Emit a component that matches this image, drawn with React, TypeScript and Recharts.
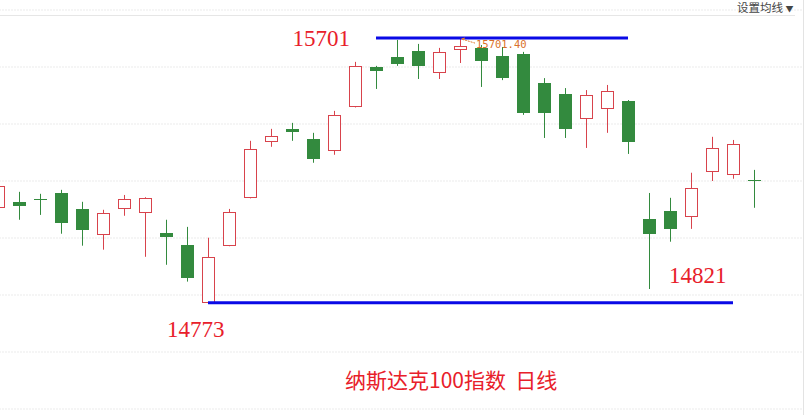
import { Bar, BarChart, CartesianGrid, ReferenceDot, ReferenceLine, XAxis, YAxis } from "recharts";

document.body.style.margin = "0";

// 日K数据
const open = [15106, 15127, 15138, 15158, 15102, 15011, 15102, 15088, 15018, 14976, 14773, 14973, 15141, 15337, 15383, 15348, 15306, 15460, 15600, 15635, 15656, 15579, 15660, 15667, 15639, 15646, 15544, 15505, 15418, 15453, 15481, 15067, 15095, 15074, 15232, 15222, 15205];
const high = [15190, 15162, 15155, 15169, 15127, 15099, 15151, 15143, 15064, 15039, 15001, 15102, 15341, 15383, 15404, 15369, 15446, 15618, 15604, 15695, 15681, 15667, 15701.4, 15677, 15670, 15653, 15561, 15526, 15519, 15537, 15484, 15158, 15141, 15229, 15355, 15344, 15239];
const low = [15099, 15064, 15081, 15015, 14973, 14959, 15078, 14934, 14906, 14847, 14773, 14971, 15139, 15320, 15341, 15264, 15292, 15458, 15523, 15604, 15558, 15558, 15614, 15530, 15554, 15432, 15351, 15351, 15316, 15369, 15295, 14821, 14987, 15032, 15200, 15208, 15106];
const close = [15183, 15113, 15136, 15053, 15029, 15088, 15137, 15141, 15004, 14861, 14934, 15092, 15313, 15358, 15372, 15278, 15432, 15604, 15586, 15611, 15604, 15653, 15674, 15621, 15561, 15439, 15439, 15383, 15502, 15516, 15337, 15015, 15032, 15176, 15316, 15330, 15203];

const yTicks = [14400, 14600, 14800, 15000, 15200, 15400, 15600];

const HI = 15701.4;
const LO = 14773;
const LO2 = 14821;
const TITLE = "纳斯达克100指数  日线";

const RED = "#d8434c";
const GREEN = "#338a3e";
const BLUE = "#0a0ae6";
const LABEL_RED = "#e8202a";

const data = open.map((o, i) => ({
  id: i,
  open: o,
  high: high[i],
  low: low[i],
  close: close[i],
  range: [low[i], high[i]],
}));

function Candle(props: any) {
  const { x, y, width, height, payload } = props;
  const { open: o, close: c, high: h, low: l } = payload;
  const cx = Math.round(x + width / 2);
  const k = Math.abs(height) / (h - l);
  const py = (v: number) => y + (h - v) * k;
  const up = c >= o;
  const top = Math.round(py(Math.max(o, c)));
  const bot = Math.round(py(Math.min(o, c)));
  const bh = Math.max(bot - top, 1);
  const col = up ? RED : GREEN;
  return (
    <g>
      <line x1={cx + 0.5} x2={cx + 0.5} y1={py(h)} y2={py(l)} stroke={col} strokeWidth={1} />
      {up ? (
        <rect x={cx - 5.5} y={top + 0.5} width={12} height={Math.max(bh - 1, 1)} fill="#fff" stroke={col} strokeWidth={1} />
      ) : (
        <rect x={cx - 6} y={top} width={13} height={bh} fill={col} />
      )}
    </g>
  );
}

const serif = "'Liberation Serif', 'DejaVu Serif', serif";

export default function App() {
  return (
    <div style={{ position: "relative", width: 811, height: 415, background: "#fff", overflow: "hidden" }}>
      <BarChart width={811} height={415} data={data} margin={{ top: 10, right: 8, bottom: 6, left: -12.5 }}>
        <CartesianGrid vertical={false} stroke="#d6d6d6" strokeDasharray="1 2" />
        <XAxis dataKey="id" hide padding={{ left: 0, right: 38.5 }} />
        <YAxis hide domain={[14400, 15800]} ticks={yTicks} allowDataOverflow />
        <Bar dataKey="range" barSize={13} shape={Candle} isAnimationActive={false} />
        <ReferenceLine segment={[{ x: 18, y: HI }, { x: 30, y: HI }]} stroke={BLUE} strokeWidth={3} ifOverflow="visible" />
        <ReferenceLine segment={[{ x: 10, y: LO }, { x: 35, y: LO }]} stroke={BLUE} strokeWidth={3} ifOverflow="visible" />
        <ReferenceDot
          x={18}
          y={HI}
          r={0}
          ifOverflow="visible"
          shape={(p: any) => (
            <text x={p.cx - 26} y={p.cy + 7.5} textAnchor="end" fill={LABEL_RED} fontSize={23} fontFamily={serif}>
              {Math.floor(HI)}
            </text>
          )}
        />
        <ReferenceDot
          x={10}
          y={LO}
          r={0}
          ifOverflow="visible"
          shape={(p: any) => (
            <text x={p.cx - 41} y={p.cy + 34} fill={LABEL_RED} fontSize={23} fontFamily={serif}>
              {LO}
            </text>
          )}
        />
        <ReferenceDot
          x={31}
          y={LO2}
          r={0}
          ifOverflow="visible"
          shape={(p: any) => (
            <text x={p.cx + 20} y={p.cy - 6} fill={LABEL_RED} fontSize={23} fontFamily={serif}>
              {LO2}
            </text>
          )}
        />
        <ReferenceDot
          x={22}
          y={HI}
          r={0}
          ifOverflow="visible"
          shape={(p: any) => (
            <g>
              <line x1={p.cx + 2} y1={p.cy + 1} x2={p.cx + 15} y2={p.cy + 5} stroke="#e07a2e" strokeWidth={1} strokeDasharray="2 1" />
              <path d={`M${p.cx + 1},${p.cy + 0.5} l4,-1 l-1,3 z`} fill="#e07a2e" />
              <text x={p.cx + 16} y={p.cy + 10} fill="#d9702a" fontSize={10.5} fontFamily="'DejaVu Sans Mono', monospace">
                {HI.toFixed(2)}
              </text>
            </g>
          )}
        />
      </BarChart>
      {/* 顶部分隔线 / 右边框 / 设置均线 */}
      <div style={{ position: "absolute", left: 0, top: 15, width: 795, borderTop: "1px solid #e6e6e6" }} />
      <div style={{ position: "absolute", left: 803, top: 0, height: 415, borderLeft: "1px solid #e3e3e3" }} />
      <div
        style={{
          position: "absolute",
          left: 737,
          top: 1,
          fontSize: 11.5,
          lineHeight: "13px",
          color: "#444",
          fontFamily: "'Noto Sans CJK SC', sans-serif",
          whiteSpace: "pre",
        }}
      >
        设置均线 <span style={{ fontSize: 8 }}>▼</span>
      </div>
      <div
        style={{
          position: "absolute",
          left: 345,
          top: 365,
          fontSize: 21,
          lineHeight: "28px",
          color: LABEL_RED,
          fontFamily: "'Noto Sans CJK SC', sans-serif",
          whiteSpace: "pre",
        }}
      >
        {TITLE}
      </div>
    </div>
  );
}
